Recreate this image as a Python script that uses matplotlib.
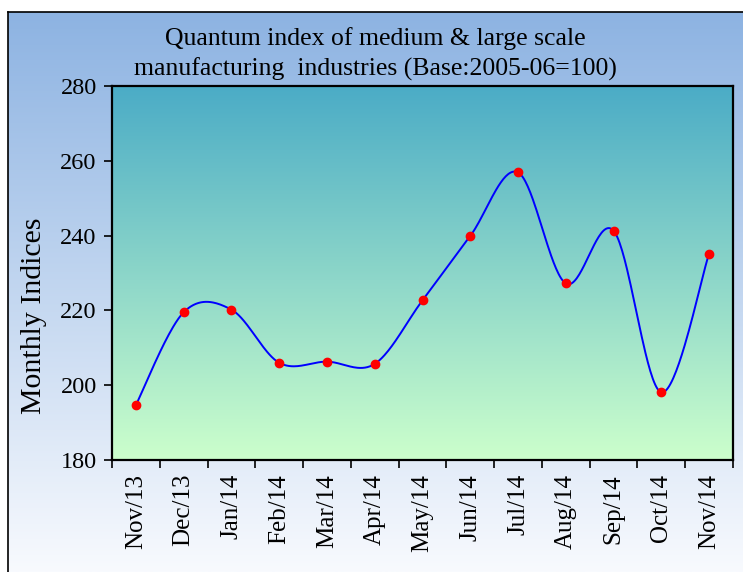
import numpy as np
import matplotlib
matplotlib.use("Agg")
import matplotlib.pyplot as plt
from matplotlib.colors import LinearSegmentedColormap

plt.rcParams['font.family'] = ['Liberation Serif', 'DejaVu Serif']

# data
months = ["Nov/13", "Dec/13", "Jan/14", "Feb/14", "Mar/14", "Apr/14", "May/14",
          "Jun/14", "Jul/14", "Aug/14", "Sep/14", "Oct/14", "Nov/14"]
indices = [194.7, 219.5, 220.2, 206.0, 206.3, 205.7, 222.7,
           239.9, 256.9, 227.2, 241.3, 198.1, 235.2]
y_ticks = [180, 200, 220, 240, 260, 280]


def smooth(xs, ys, n=40):
    # Catmull-Rom style smoothing (like a spreadsheet "smoothed line")
    xs = np.asarray(xs, float)
    ys = np.asarray(ys, float)
    px = np.concatenate([[xs[0]], xs, [xs[-1]]])
    py = np.concatenate([[ys[0]], ys, [ys[-1]]])
    out_x, out_y = [], []
    t = np.linspace(0, 1, n)
    for i in range(1, len(px) - 2):
        p0 = np.array([px[i], py[i]])
        p3 = np.array([px[i + 1], py[i + 1]])
        c1 = p0 + (np.array([px[i + 1], py[i + 1]]) - np.array([px[i - 1], py[i - 1]])) / 6
        c2 = p3 - (np.array([px[i + 2], py[i + 2]]) - np.array([px[i], py[i]])) / 6
        b = ((1 - t) ** 3)[:, None] * p0 + (3 * (1 - t) ** 2 * t)[:, None] * c1 \
            + (3 * (1 - t) * t ** 2)[:, None] * c2 + (t ** 3)[:, None] * p3
        out_x.extend(b[:, 0])
        out_y.extend(b[:, 1])
    return out_x, out_y


W, H = 743, 572
fig = plt.figure(figsize=(W / 100, H / 100), dpi=100, facecolor="white")

# outer frame with blue-to-white gradient
bg = fig.add_axes([8 / W, 0, 1, (H - 12) / H], zorder=-1)
bg_cmap = LinearSegmentedColormap.from_list("bg", ["#F8FAFE", "#8DB3E2"])
bg.imshow(np.linspace(0, 1, 256)[:, None], cmap=bg_cmap, aspect="auto",
          extent=[0, 1, 0, 1], origin="lower")
bg.set_xticks([])
bg.set_yticks([])
for s in ["right", "bottom"]:
    bg.spines[s].set_visible(False)
for s in ["left", "top"]:
    bg.spines[s].set_linewidth(1.2)

ax = fig.add_axes([112 / W, (H - 460) / H, (733 - 112) / W, (460 - 86) / H])
plot_cmap = LinearSegmentedColormap.from_list("plot", ["#CCFFCC", "#4BACC6"])
x = np.arange(len(months))
ax.imshow(np.linspace(0, 1, 256)[:, None], cmap=plot_cmap, aspect="auto",
          extent=[-0.5, len(months) - 0.5, 180, 280], origin="lower", zorder=0)

sx, sy = smooth(x, indices)
ax.plot(sx, sy, color="#0000FF", lw=1.4, zorder=2)
ax.plot(x, indices, "o", color="#FF0000", ms=6, zorder=3)

ax.set_xlim(-0.5, len(months) - 0.5)
ax.set_ylim(180, 280)
ax.set_yticks(y_ticks)
ax.set_xticks(np.arange(-0.5, len(months)), labels=[])
ax.set_xticks(x, labels=months, minor=True)
ax.tick_params(axis="x", which="minor", length=0, labelsize=18, rotation=90, pad=10)
ax.tick_params(axis="both", which="major", direction="out", length=6, width=1.2,
               labelsize=17.5, pad=5)
for s in ax.spines.values():
    s.set_linewidth(1.6)

ax.set_ylabel("Monthly Indices", fontsize=21.5)
ax.yaxis.set_label_coords(-0.104, 0.385)
fig.text(375 / W, 1 - 54 / H,
         "Quantum index of medium & large scale\nmanufacturing  industries (Base:2005-06=100)",
         ha="center", va="center", fontsize=18.5, linespacing=1.45)

fig.savefig("out.png", dpi=100)
